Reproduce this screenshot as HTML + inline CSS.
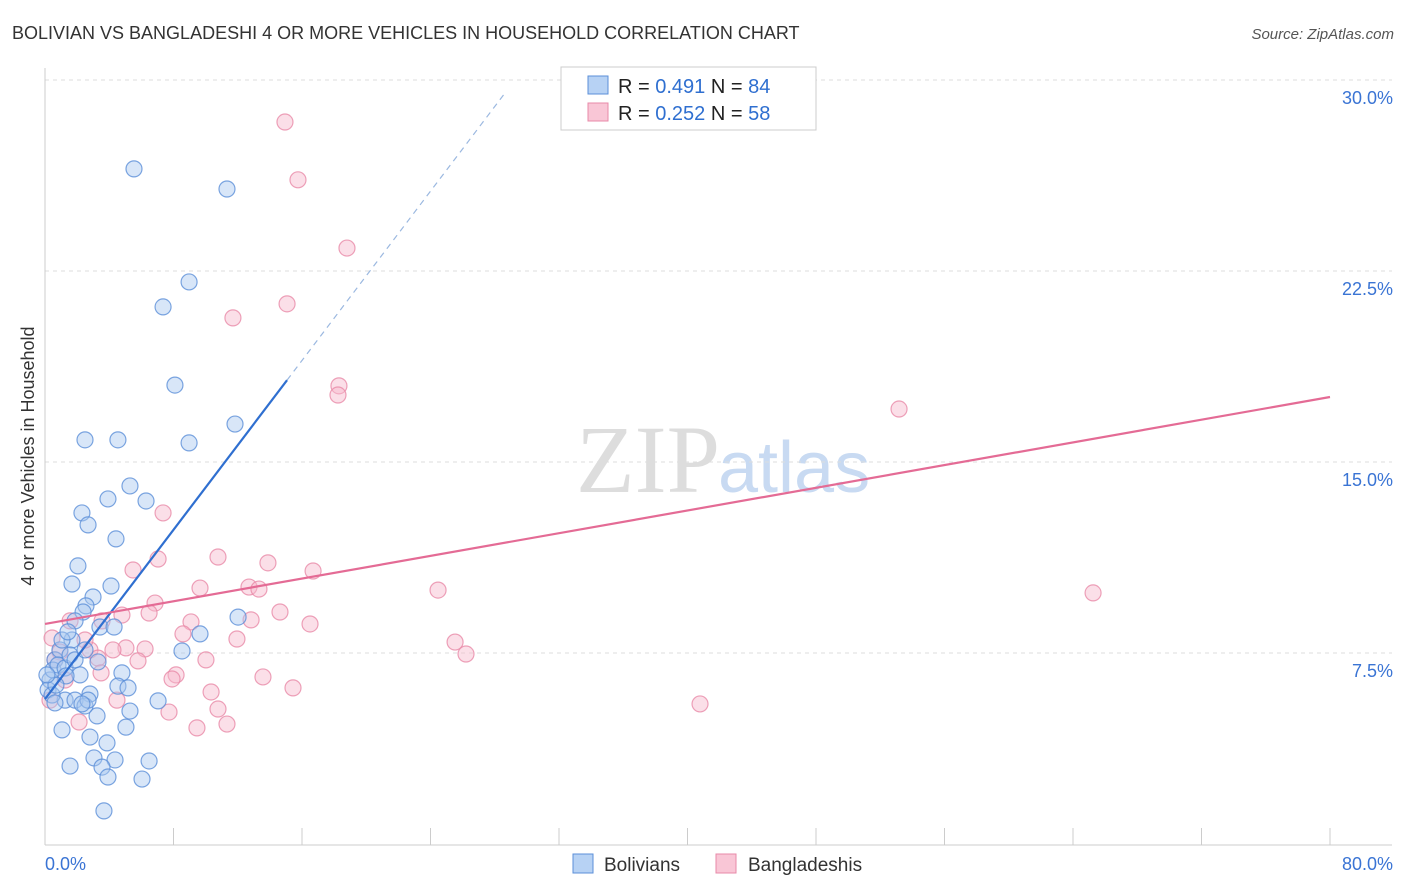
<!DOCTYPE html>
<html><head><meta charset="utf-8"><style>
body{margin:0;background:#fff;font-family:"Liberation Sans",sans-serif;}
svg{display:block}
</style></head><body>
<svg width="1406" height="892" xmlns="http://www.w3.org/2000/svg">
<text x="12" y="39" font-size="18" fill="#333">BOLIVIAN VS BANGLADESHI 4 OR MORE VEHICLES IN HOUSEHOLD CORRELATION CHART</text>
<text x="1394" y="39" font-size="15" fill="#555" font-style="italic" text-anchor="end">Source: ZipAtlas.com</text>
<text x="720" y="492" font-size="96" fill="#ddd" text-anchor="end" font-family="Liberation Serif,serif">ZIP</text>
<text x="718" y="492" font-size="72" fill="#c8daf2">atlas</text>
<g id="grid"></g>
<g id="axes"></g>
<g id="pts"></g>
<g id="lines"></g>
<text transform="translate(34,456) rotate(-90)" font-size="18" fill="#333" text-anchor="middle">4 or more Vehicles in Household</text>
<g>
<rect x="561" y="67" width="255" height="63" fill="#fff" stroke="#ccc"/>
<rect x="588" y="76" width="20" height="18" fill="#b7d2f4" stroke="#5b8fd8"/>
<rect x="588" y="103" width="20" height="18" fill="#f9c6d6" stroke="#e88aa8"/>
<text x="618" y="93" font-size="20" fill="#222">R = <tspan fill="#2f6fd0">0.491</tspan>   N = <tspan fill="#2f6fd0">84</tspan></text>
<text x="618" y="120" font-size="20" fill="#222">R = <tspan fill="#2f6fd0">0.252</tspan>   N = <tspan fill="#2f6fd0">58</tspan></text>
</g>
<g>
<rect x="573" y="854" width="20" height="19" fill="#b7d2f4" stroke="#5b8fd8"/>
<text x="604" y="871" font-size="19" fill="#333">Bolivians</text>
<rect x="716" y="854" width="20" height="19" fill="#f9c6d6" stroke="#e88aa8"/>
<text x="748" y="871" font-size="19" fill="#333">Bangladeshis</text>
</g>
</svg>
<script>
const yTicks=[7.5,15,22.5,30];
const yTickLabels=["7.5%","15.0%","22.5%","30.0%"];
const xTickCount=10;
const blueX=[5.54,11.33,8.97,7.35,8.09,11.83,2.49,4.54,8.97,5.29,6.29,3.92,2.30,2.68,4.42,2.05,1.68,4.11,2.99,2.55,2.37,1.87,3.42,4.30,12.02,9.65,8.53,1.68,3.30,4.79,4.54,5.17,2.80,7.04,5.29,3.24,1.25,1.87,2.49,1.06,5.04,2.80,3.86,3.05,4.36,6.48,1.56,3.55,3.92,6.04,3.67,0.62,0.93,0.31,0.19,0.50,0.81,1.25,1.56,1.06,1.43,0.44,2.18,1.87,1.31,0.68,0.12,0.62,2.49,2.68,2.30];
const blueY=[26.51,25.72,22.07,21.09,18.02,16.49,15.87,15.87,15.75,14.06,13.47,13.55,13.00,12.53,11.98,10.92,10.21,10.13,9.70,9.35,9.11,8.76,8.52,8.52,8.91,8.25,7.58,8.01,7.15,6.72,6.20,6.13,5.89,5.62,5.22,5.03,5.65,5.65,5.42,4.48,4.59,4.20,3.97,3.38,3.30,3.26,3.06,3.02,2.63,2.55,1.30,7.23,7.62,6.44,6.05,6.83,7.03,6.91,7.42,8.01,8.33,5.85,6.64,7.23,6.60,6.24,6.64,5.54,7.62,5.65,5.50];
const pinkX=[14.94,15.75,18.80,15.07,11.70,18.30,18.24,53.17,7.35,7.04,10.77,13.88,16.69,5.48,12.70,13.32,9.65,24.47,65.25,6.85,4.79,6.48,9.09,12.83,14.63,16.50,3.55,1.56,8.59,11.95,25.53,26.21,6.23,5.04,4.23,2.80,0.44,0.93,10.02,5.79,3.30,8.16,7.91,13.57,15.44,3.49,10.34,4.48,7.72,10.77,40.78,2.12,9.46,11.33,0.31,0.62,1.25,2.49];
const pinkY=[28.35,26.08,23.40,21.21,20.66,17.99,17.63,17.08,13.00,11.19,11.27,11.04,10.72,10.76,10.09,10.01,10.05,9.97,9.86,9.46,8.99,9.07,8.72,8.80,9.11,8.64,8.76,8.76,8.25,8.05,7.93,7.46,7.66,7.70,7.62,7.62,8.09,7.54,7.23,7.19,7.30,6.64,6.48,6.56,6.13,6.72,5.97,5.65,5.18,5.30,5.50,4.79,4.56,4.71,5.65,7.23,6.44,8.01];
const blueFit=[5.69,0.831,15.07,28.65];
const pinkFit=[8.64,0.1114,80];
const NS="http://www.w3.org/2000/svg";
const X=v=>45+v/80*1285, Y=v=>844-v/7.5*191;
function mk(p,t,a){const e=document.createElementNS(NS,t);for(const k in a)e.setAttribute(k,a[k]);document.getElementById(p).appendChild(e);return e;}
yTicks.forEach((t,i)=>{
 const l=mk('grid','line',{x1:45,x2:1392,y1:Y(t),y2:Y(t),stroke:'#ddd','stroke-dasharray':'4,4'});
 
 
 const tx=mk('grid','text',{x:1393,y:Y(t)+24,'font-size':18,fill:'#3a74d4','text-anchor':'end'});
 tx.textContent=yTickLabels[i];
 
 
});
const ax=mk('axes','line',{x1:45,x2:45,y1:68,y2:845,stroke:'#ccc'});


const bx=mk('axes','line',{x1:45,x2:1392,y1:845,y2:845,stroke:'#ccc'});


for(let i=0;i<=xTickCount;i++){const t=mk('axes','line',{x1:X(i*8),x2:X(i*8),y1:828,y2:845,stroke:'#ccc'});
 
 }
[["0.0%",45,'start'],["80.0%",1393,'end']].forEach(d=>{const t=mk('axes','text',{x:d[1],y:870,'font-size':18,fill:'#3a74d4','text-anchor':d[2]});t.textContent=d[0];
 
 });
function pts(xs,ys,f,s,n){xs.forEach((x,i)=>{const c=mk('pts','circle',{cx:X(x),cy:Y(ys[i]),r:8,fill:f,'fill-opacity':0.45,stroke:s,'stroke-width':1.2,'stroke-opacity':0.8});
 
 });}
pts(pinkX,pinkY,'#f7b8cc','#e88aa8','bangladeshi-point');
pts(blueX,blueY,'#a8c8f0','#5b8fd8','bolivian-point');
const b1=mk('lines','line',{x1:X(0),y1:Y(blueFit[0]),x2:X(blueFit[2]),y2:Y(blueFit[0]+blueFit[1]*blueFit[2]),stroke:'#2f6fd0','stroke-width':2.2});


const b2=mk('lines','line',{x1:X(blueFit[2]),y1:Y(blueFit[0]+blueFit[1]*blueFit[2]),x2:X(blueFit[3]),y2:Y(blueFit[0]+blueFit[1]*blueFit[3]),stroke:'#9bb8e0','stroke-width':1.2,'stroke-dasharray':'6,5'});


const p1=mk('lines','line',{x1:X(0),y1:Y(pinkFit[0]),x2:X(pinkFit[2]),y2:Y(pinkFit[0]+pinkFit[1]*pinkFit[2]),stroke:'#e46b95','stroke-width':2.2});


</script>
</body></html>
